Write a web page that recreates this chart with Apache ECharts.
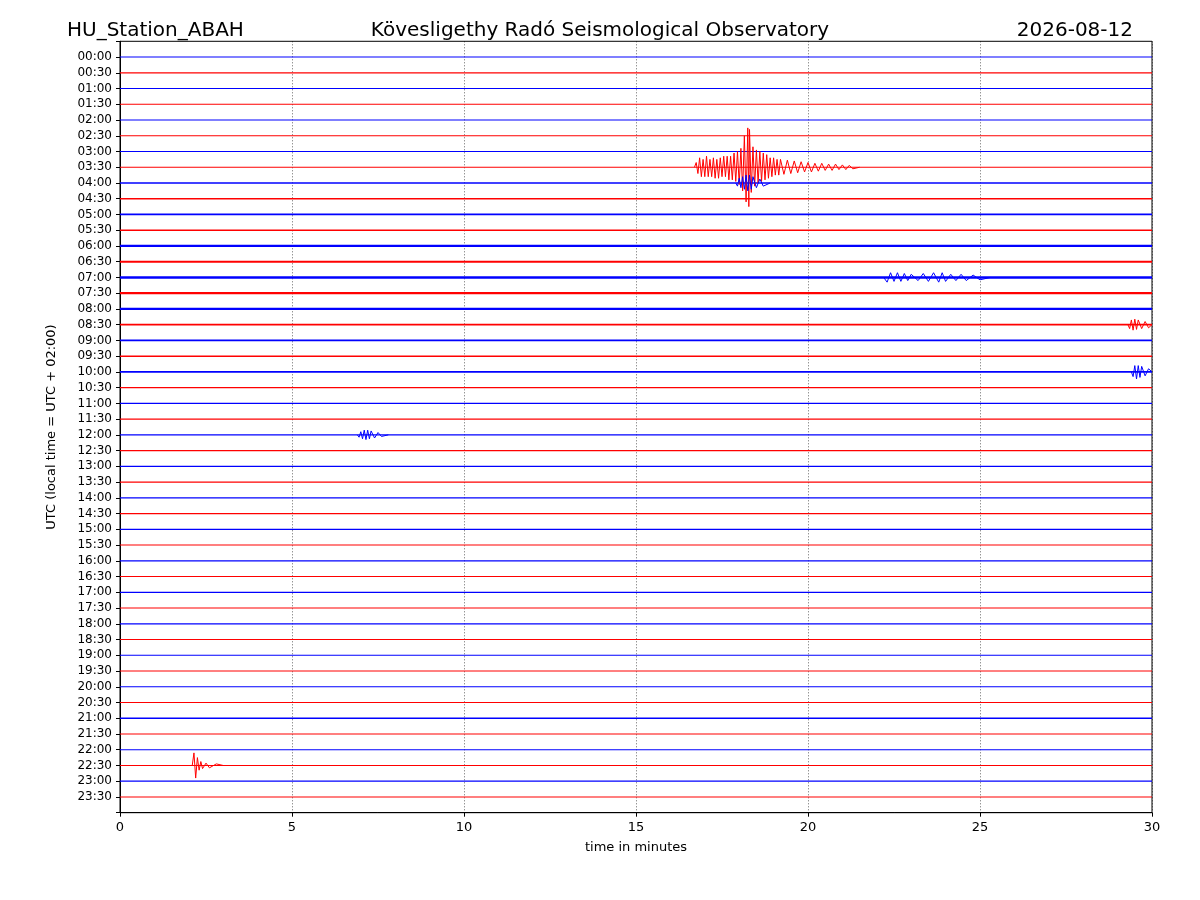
<!DOCTYPE html>
<html>
<head>
<meta charset="utf-8">
<script src="https://cdn.jsdelivr.net/npm/echarts@6/dist/echarts.min.js"></script>
<style>html,body{margin:0;background:#fff}#c{width:1200px;height:900px}</style>
</head>
<body>
<div id="c"></div>
<script>
// helicorder rows, one per 30 minutes
const rowLabels = ['00:00','00:30','01:00','01:30','02:00','02:30','03:00','03:30','04:00','04:30',
  '05:00','05:30','06:00','06:30','07:00','07:30','08:00','08:30','09:00','09:30',
  '10:00','10:30','11:00','11:30','12:00','12:30','13:00','13:30','14:00','14:30',
  '15:00','15:30','16:00','16:30','17:00','17:30','18:00','18:30','19:00','19:30',
  '20:00','20:30','21:00','21:30','22:00','22:30','23:00','23:30'];

// background noise level per row (trace thickness, px)
const noiseLevel = [1.1,1.2,1.1,1.1,1.1,1.1,1.2,1.2,1.4,1.3,
  1.8,1.6,2.2,2.0,2.4,2.2,2.2,1.9,1.9,1.5,
  1.6,1.3,1.4,1.3,1.4,1.1,1.3,1.1,1.2,1.1,
  1.3,1.1,1.3,1.1,1.2,1.1,1.3,1.1,1.2,1.0,
  1.1,1.0,1.3,1.1,1.2,1.1,1.2,1.1];

// events: [minute, deflection in row units]
const quake0330 = [[16.7,0],[16.75,-0.3],[16.8,0.4],[16.85,-0.6],[16.9,0.6],[16.95,-0.5],[17.0,0.6],[17.05,-0.7],
  [17.1,0.6],[17.15,-0.5],[17.2,0.6],[17.25,-0.6],[17.3,0.7],[17.35,-0.5],[17.4,0.7],[17.45,-0.6],[17.5,0.6],
  [17.55,-0.7],[17.6,0.6],[17.65,-0.7],[17.7,0.8],[17.75,-0.7],[17.8,0.8],[17.85,-0.9],[17.9,0.9],[17.95,-1.0],
  [18.0,1.1],[18.05,-1.2],[18.1,1.5],[18.15,-2.0],[18.2,2.2],[18.25,-2.5],[18.28,2.5],[18.3,-2.4],[18.35,1.6],
  [18.4,-1.3],[18.45,1.2],[18.5,-1.1],[18.55,1.0],[18.6,-1.0],[18.65,0.9],[18.7,-0.9],[18.75,0.8],[18.8,-0.8],
  [18.85,0.7],[18.9,-0.6],[18.95,0.6],[19.0,-0.6],[19.05,0.5],[19.1,-0.5],[19.15,0.5],[19.2,-0.5],[19.3,0.45],
  [19.4,-0.45],[19.5,0.4],[19.6,-0.4],[19.7,0.35],[19.8,-0.35],[19.9,0.3],[20.0,-0.3],[20.1,0.3],[20.2,-0.25],
  [20.3,0.25],[20.4,-0.25],[20.5,0.2],[20.6,-0.2],[20.7,0.2],[20.8,-0.2],[20.9,0.15],[21.0,-0.15],[21.1,0.15],
  [21.2,-0.12],[21.3,0.1],[21.5,0]];
const quake0400 = [[17.9,0],[17.95,0.2],[18.0,-0.3],[18.05,0.3],[18.1,-0.4],[18.15,0.4],[18.2,-0.5],[18.25,0.5],
  [18.3,-0.5],[18.35,0.4],[18.4,-0.4],[18.5,0.3],[18.6,-0.25],[18.7,0.2],[18.9,0]];
const event0700 = [[22.2,0],[22.3,0.3],[22.4,-0.3],[22.5,0.25],[22.6,-0.3],[22.7,0.25],[22.8,-0.25],[22.9,0.2],
  [23.0,-0.2],[23.2,0.2],[23.35,-0.25],[23.5,0.25],[23.65,-0.3],[23.8,0.3],[23.9,-0.3],[24.0,0.25],[24.15,-0.2],
  [24.3,0.2],[24.45,-0.2],[24.6,0.2],[24.8,-0.15],[25.0,0.15],[25.3,0]];
const event0830 = [[29.3,0],[29.35,0.25],[29.4,-0.3],[29.45,0.35],[29.5,-0.35],[29.55,0.3],[29.6,-0.3],[29.7,0.25],[29.8,-0.2],[29.9,0.2],[30,0]];
const event1000 = [[29.4,0],[29.45,0.3],[29.5,-0.4],[29.55,0.45],[29.6,-0.4],[29.65,0.35],[29.7,-0.35],[29.8,0.25],[29.9,-0.2],[30,0]];
const event1200 = [[6.9,0],[6.95,0.15],[7.0,-0.2],[7.05,0.25],[7.1,-0.3],[7.15,0.3],[7.2,-0.3],[7.25,0.25],[7.3,-0.25],[7.4,0.2],[7.5,-0.15],[7.6,0.1],[7.8,0]];
const event2230 = [[2.1,0],[2.15,-0.8],[2.2,0.8],[2.25,-0.5],[2.3,0.3],[2.35,-0.25],[2.4,0.2],[2.5,-0.15],[2.6,0.15],[2.8,-0.1],[3.0,0]];

const events = [[7, quake0330],[8, quake0400],[14, event0700],[17, event0830],[20, event1000],[24, event1200],[45, event2230]];

const rowColor = i => i % 2 ? '#ff0000' : '#0000ff';

const series = rowLabels.map((_, i) => ({
  type: 'line', symbol: 'none', silent: true,
  data: [[0, i], [30, i]],
  lineStyle: { color: rowColor(i), width: noiseLevel[i] },
}));
events.forEach(([row, pts]) => series.push({
  type: 'line', symbol: 'none', silent: true,
  data: pts.map(([m, d]) => [m, row + d]),
  lineStyle: { color: rowColor(row), width: 1 },
}));

const FONT = 'DejaVu Sans';
const c = echarts.init(document.getElementById('c'));
c.setOption({
  animation: false,
  textStyle: { fontFamily: FONT },
  title: [
    { text: 'HU_Station_ABAH', left: 62, top: 16, textStyle: { fontSize: 20, fontWeight: 'normal', color: '#000', fontFamily: FONT } },
    { text: 'Kövesligethy Radó Seismological Observatory', left: 'center', top: 16, textStyle: { fontSize: 20, fontWeight: 'normal', color: '#000', fontFamily: FONT } },
    { text: '2026-08-12', right: 62, top: 16, textStyle: { fontSize: 20, fontWeight: 'normal', color: '#000', fontFamily: FONT } },
  ],
  grid: { left: 120, right: 48, top: 41.3, bottom: 87.3, show: true, borderColor: '#000', borderWidth: 1 },
  xAxis: {
    type: 'value', min: 0, max: 30, interval: 5,
    name: 'time in minutes', nameLocation: 'middle', nameGap: 28,
    nameTextStyle: { fontSize: 13, color: '#000' },
    axisLine: { onZero: false, lineStyle: { color: '#000' } },
    axisTick: { lineStyle: { color: '#000' }, length: 4 },
    axisLabel: { color: '#000', fontSize: 13 },
    splitLine: { show: true, lineStyle: { color: '#000', type: [1, 2], width: 0.6 } },
  },
  yAxis: {
    type: 'value', min: -1, max: 48, interval: 1, inverse: true,
    name: 'UTC (local time = UTC + 02:00)', nameLocation: 'middle', nameGap: 62,
    nameTextStyle: { fontSize: 13, color: '#000' },
    axisLine: { onZero: false, lineStyle: { color: '#000' } },
    axisTick: { lineStyle: { color: '#000' }, length: 4 },
    axisLabel: { color: '#000', fontSize: 12, formatter: v => rowLabels[v] || '' },
    splitLine: { show: false },
  },
  series,
});
</script>
</body>
</html>
